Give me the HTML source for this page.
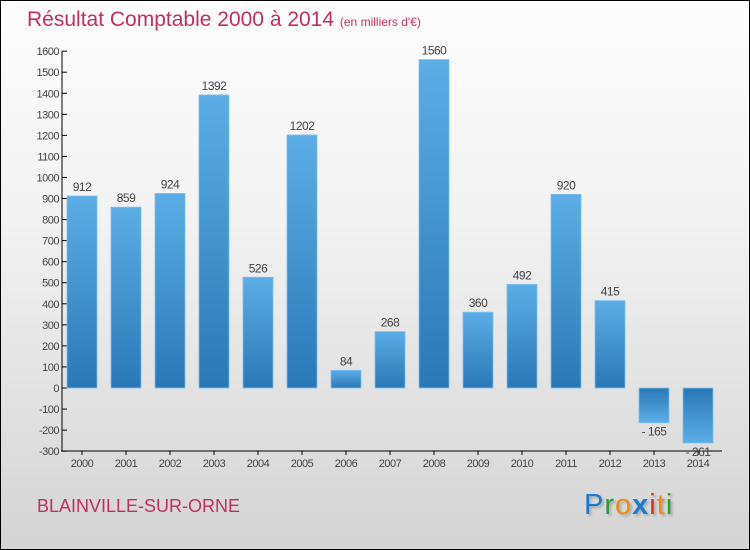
<!DOCTYPE html>
<html><head><meta charset="utf-8"><style>
body{margin:0}
#wrap{position:relative;width:748px;height:548px;border:1px solid #000;background:linear-gradient(#fdfdfd,#f2f2f2 40%,#d4d4d4);font-family:"Liberation Sans",sans-serif;overflow:hidden}
#title{position:absolute;left:26px;top:7px;font-size:21px;color:#c0305f;white-space:nowrap}
#title span{font-size:12px}
#city{position:absolute;left:36px;top:495px;font-size:18px;color:#c0305f}
#logo{position:absolute;left:583px;top:488px;font-size:29px;letter-spacing:1px;text-shadow:2px 2px 2px #aaa}
</style></head><body>
<div id="wrap">
<div id="title">Résultat Comptable 2000 à 2014 <span>(en milliers d'€)</span></div>
<svg id="svg" width="748" height="548" style="position:absolute;left:0;top:0">
<defs>
<linearGradient id="gp" x1="0" y1="0" x2="0" y2="1"><stop offset="0" stop-color="#5cade6"/><stop offset="1" stop-color="#2a78b6"/></linearGradient>
<linearGradient id="gn" x1="0" y1="0" x2="0" y2="1"><stop offset="0" stop-color="#2a78b6"/><stop offset="1" stop-color="#5cade6"/></linearGradient>
</defs>
</svg>
<div id="city">BLAINVILLE-SUR-ORNE</div>
<div id="logo"><span style="color:#1a7ad0">P</span><span style="color:#2a9a3a">r</span><span style="color:#f08a10">o</span><span style="color:#1a7ad0;font-weight:bold">x</span><span style="color:#e03020">i</span><span style="color:#f08a10">t</span><span style="color:#2a9a3a">i</span></div>
</div>
<script>
const years=["2000","2001","2002","2003","2004","2005","2006","2007","2008","2009","2010","2011","2012","2013","2014"];
const values=[912,859,924,1392,526,1202,84,268,1560,360,492,920,415,-165,-261];
const yTicks=[-300,-200,-100,0,100,200,300,400,500,600,700,800,900,1000,1100,1200,1300,1400,1500,1600];
const svg=document.getElementById('svg');const NS='http://www.w3.org/2000/svg';
const y=v=>387-v*(400/1900);
const xc=i=>81+i*44;
function mk(t,a){const e=document.createElementNS(NS,t);for(const k in a)e.setAttribute(k,a[k]);svg.appendChild(e);return e;}
let ax=mk('line',{x1:61,y1:y(1600),x2:61,y2:450,stroke:'#000'});


let bx=mk('line',{x1:60,y1:450,x2:721,y2:450,stroke:'#000'});


yTicks.forEach(v=>{
 mk('line',{x1:61,y1:y(v),x2:66,y2:y(v),stroke:'#000'});
 const t=mk('text',{x:58,y:y(v)+4,'text-anchor':'end','font-size':11,fill:'#444','letter-spacing':'-0.5'});t.textContent=v;
 
 
});
years.forEach((yr,i)=>{
 const v=values[i];const top=Math.min(y(v),y(0)),h=Math.abs(y(v)-y(0));
 const r=mk('rect',{x:xc(i)-15,y:top,width:30,height:h,fill:v>=0?'url(#gp)':'url(#gn)',stroke:'#7cc0ee','stroke-width':0.8});
 
 
 mk('line',{x1:xc(i),y1:450,x2:xc(i),y2:454,stroke:'#000'});
 const t=mk('text',{x:xc(i),y:466,'text-anchor':'middle','font-size':11,fill:'#444','letter-spacing':'-0.5'});t.textContent=yr;
 
 
 const l=mk('text',{x:xc(i),y:v>=0?y(v)-5:y(v)+13,'text-anchor':'middle','font-size':12,fill:'#444','letter-spacing':'-0.5'});l.textContent=v<0?'- '+(-v):v;
 
 
});
</script>
</body></html>
